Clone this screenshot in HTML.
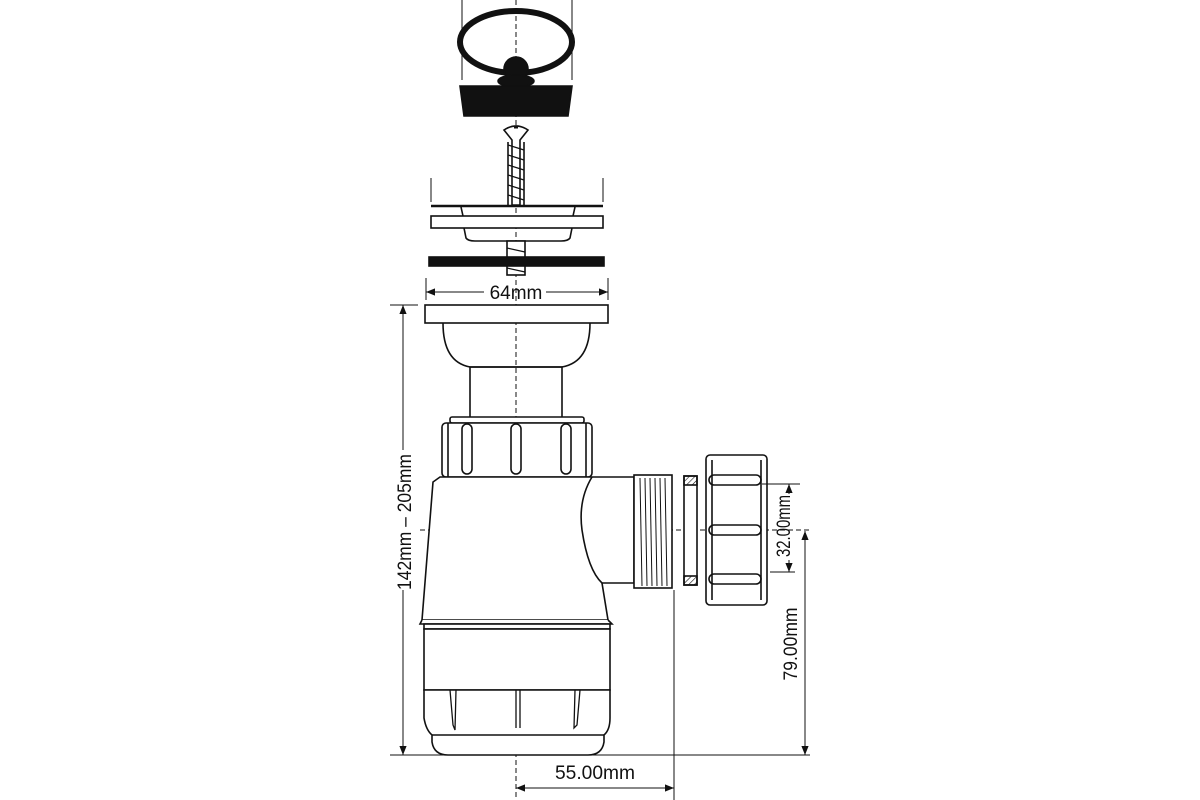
<!DOCTYPE html>
<html><head><meta charset="utf-8"><style>
html,body{margin:0;padding:0;background:#fff;width:1200px;height:800px;overflow:hidden}
svg{display:block}
text{font-family:"Liberation Sans",sans-serif;font-size:19px;fill:#111}
</style></head><body>
<svg width="1200" height="800" viewBox="0 0 1200 800" xmlns="http://www.w3.org/2000/svg">
<defs>
<marker id="a" viewBox="0 0 10 10" refX="10" refY="5" markerWidth="9" markerHeight="9" orient="auto-start-reverse" markerUnits="userSpaceOnUse"><path d="M0,1 L10,5 L0,9 z" fill="#111"/></marker>
<pattern id="h" width="4" height="4" patternUnits="userSpaceOnUse" patternTransform="rotate(45)"><line x1="0" y1="0" x2="0" y2="4" stroke="#111" stroke-width="1.2"/></pattern>
</defs>
<g fill="none" stroke="#111" stroke-width="1.6">
<line x1="516" y1="0" x2="516" y2="800" stroke-width="1" stroke-dasharray="5,3"/>
<line x1="420" y1="530" x2="810" y2="530" stroke-width="1" stroke-dasharray="5,3"/>
<line x1="462" y1="0" x2="462" y2="80" stroke-width="1"/>
<line x1="572" y1="0" x2="572" y2="80" stroke-width="1"/>
<ellipse cx="516" cy="42" rx="56" ry="31" stroke-width="6"/>
<circle cx="516" cy="69" r="12" fill="#111"/>
<ellipse cx="516" cy="81" rx="18" ry="6" fill="#111"/>
<path d="M460,86 L572,86 L568,116 L464,116 Z" fill="#111"/>
<path d="M504,130 Q516,122 528,130 L520,140 L520,205 L512,205 L512,140 Z" fill="#fff"/>
<line x1="514" y1="127" x2="518" y2="127" stroke-width="3"/>
<path d="M508,145 L524,150 M508,155 L524,160 M508,165 L524,170 M508,175 L524,180 M508,185 L524,190 M508,195 L524,200" stroke-width="1.2"/>
<line x1="508" y1="142" x2="508" y2="205"/><line x1="524" y1="142" x2="524" y2="205"/>
<line x1="431" y1="178" x2="431" y2="202" stroke-width="1"/>
<line x1="603" y1="178" x2="603" y2="202" stroke-width="1"/>
<line x1="431" y1="206" x2="603" y2="206" stroke-width="2.5"/>
<path d="M461,207 L463,216 M575,207 L573,216"/>
<rect x="431" y="216" width="172" height="12" fill="#fff"/>
<path d="M464,228 L466,238 Q468,241 475,241 L561,241 Q568,241 570,238 L572,228"/>
<rect x="507" y="241" width="18" height="34" fill="#fff"/>
<path d="M507,248 L525,252 M507,258 L525,262 M507,268 L525,272" stroke-width="1.2"/>
<rect x="429" y="257" width="175" height="9" fill="#111"/>
<line x1="426" y1="278" x2="426" y2="300" stroke-width="1"/>
<line x1="608" y1="278" x2="608" y2="300" stroke-width="1"/>
<line x1="426" y1="292" x2="484" y2="292" stroke-width="1" marker-start="url(#a)"/>
<line x1="546" y1="292" x2="608" y2="292" stroke-width="1" marker-end="url(#a)"/>
<rect x="425" y="305" width="183" height="18" fill="#fff"/>
<path d="M443,323 Q443,362 470,367 L562,367 Q590,362 590,323"/>
<rect x="470" y="367" width="92" height="53"/>
<rect x="450" y="417" width="134" height="6" rx="2" fill="#fff"/>
<rect x="442" y="423" width="150" height="54" rx="4" fill="#fff"/>
<line x1="448" y1="423" x2="448" y2="477"/><line x1="586" y1="423" x2="586" y2="477"/>
<rect x="462" y="424" width="10" height="50" rx="5"/>
<rect x="511" y="424" width="10" height="50" rx="5"/>
<rect x="561" y="424" width="10" height="50" rx="5"/>
<path d="M440,477 L592,477 L634,477 L634,583 L602,583 L608,620 L422,620 L433,482 Z" fill="#fff"/>
<path d="M592,477 Q578,500 582,530 Q588,570 602,583"/>
<rect x="634" y="475" width="38" height="113" fill="#fff"/>
<path d="M640,478 L642,586 M645,478 L647,586 M650,478 L652,586 M655,478 L657,586 M660,478 L662,586 M665,478 L667,586" stroke-width="1"/>
<rect x="684" y="476" width="13" height="109" fill="#fff"/>
<rect x="684" y="476" width="13" height="9" fill="url(#h)"/>
<rect x="684" y="576" width="13" height="9" fill="url(#h)"/>
<rect x="706" y="455" width="61" height="150" rx="4" fill="#fff"/>
<line x1="712" y1="460" x2="712" y2="600"/><line x1="761" y1="460" x2="761" y2="600"/>
<rect x="709" y="475" width="52" height="10" rx="5"/>
<rect x="709" y="525" width="52" height="10" rx="5"/>
<rect x="709" y="574" width="52" height="10" rx="5"/>
<path d="M422,620 L420,624 L612,624 L608,620" fill="#fff"/>
<rect x="424" y="624" width="186" height="5" fill="#fff"/>
<rect x="424" y="629" width="186" height="61" fill="#fff"/>
<path d="M424,690 L424,718 Q426,730 432,735 L432,742 Q434,755 448,755 L588,755 Q602,755 604,742 L604,735 Q610,730 610,718 L610,690 Z" fill="#fff"/>
<line x1="432" y1="735" x2="604" y2="735"/>
<path d="M450,690 L453,725 L455,730 L456,690 M516,690 L516,728 M520,690 L520,728 M575,690 L574,728 L577,725 L580,690" stroke-width="1.3"/>
<line x1="390" y1="305" x2="418" y2="305" stroke-width="1"/>
<line x1="390" y1="755" x2="445" y2="755" stroke-width="1"/>
<line x1="403" y1="305" x2="403" y2="450" stroke-width="1" marker-start="url(#a)"/>
<line x1="403" y1="590" x2="403" y2="755" stroke-width="1" marker-end="url(#a)"/>
<line x1="590" y1="755" x2="810" y2="755" stroke-width="1"/>
<line x1="674" y1="590" x2="674" y2="800" stroke-width="1"/>
<line x1="516" y1="788" x2="674" y2="788" stroke-width="1" marker-start="url(#a)" marker-end="url(#a)"/>
<line x1="805" y1="531" x2="805" y2="755" stroke-width="1" marker-start="url(#a)" marker-end="url(#a)"/>
<line x1="762" y1="484" x2="800" y2="484" stroke-width="1"/>
<line x1="770" y1="572" x2="795" y2="572" stroke-width="1"/>
<line x1="789" y1="484" x2="789" y2="494" stroke-width="1" marker-start="url(#a)"/>
<line x1="789" y1="560" x2="789" y2="572" stroke-width="1" marker-end="url(#a)"/>
</g>
<text x="516" y="299" text-anchor="middle">64mm</text>
<text x="595" y="779" text-anchor="middle" textLength="80" lengthAdjust="spacingAndGlyphs">55.00mm</text>
<text transform="translate(411,522) rotate(-90)" text-anchor="middle" textLength="136" lengthAdjust="spacingAndGlyphs">142mm – 205mm</text>
<text transform="translate(797,644) rotate(-90)" text-anchor="middle" textLength="73" lengthAdjust="spacingAndGlyphs">79.00mm</text>
<text transform="translate(790,526) rotate(-90)" text-anchor="middle" textLength="62" lengthAdjust="spacingAndGlyphs">32.00mm</text>
</svg>
</body></html>
